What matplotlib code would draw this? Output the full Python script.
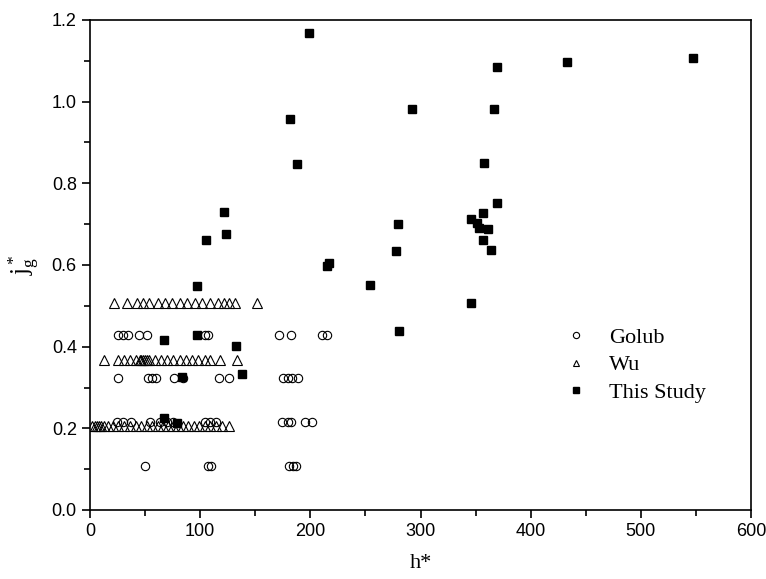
import numpy as np
import matplotlib
matplotlib.use('Agg')
import matplotlib.pyplot as plt
from matplotlib.ticker import MultipleLocator

plt.rcParams['mathtext.fontset'] = 'custom'
plt.rcParams['mathtext.rm'] = 'Liberation Serif'
plt.rcParams['mathtext.it'] = 'Liberation Serif:italic'

# Golub data
golub_h = [25, 30, 34.5, 44.5, 52, 104, 107, 172, 182, 211, 215,
           25, 53, 56, 60, 76, 84, 117, 126, 175, 180, 183, 189,
           24.5, 30, 37, 54.5, 63.5, 70, 75, 104, 109, 114, 174, 180, 182.5, 195, 201.5,
           50, 107, 110, 181, 184, 187]
golub_j = [0.429] * 11 + [0.323] * 12 + [0.216] * 15 + [0.107] * 6

# Wu data
wu_h_top = [22, 34, 43, 48, 54, 62, 68, 74, 82, 88, 95, 102, 109, 116, 122, 126, 132, 152]
wu_h_mid = [13, 25, 31, 36, 42, 45, 46, 48, 50, 52, 54, 59, 64, 70, 75, 82, 87, 93,
            98, 104, 109, 118, 133]
wu_h_low = [2, 4.5, 6.4, 8, 10, 13, 16, 21, 25, 31, 36, 42, 46, 52, 56, 62, 66, 71,
            75, 80, 84, 89, 94, 99, 104, 109, 114, 120, 126]
wu_h = wu_h_top + wu_h_mid + wu_h_low
wu_j = [0.506] * len(wu_h_top) + [0.367] * len(wu_h_mid) + [0.205] * len(wu_h_low)

# This study
study_h = [67, 79, 67, 97, 132.5, 83.5, 138, 97, 105, 121.5, 123,
           369, 357, 346, 351, 353, 361, 356.5, 364, 346,
           199, 292, 181.5, 188, 547, 433, 369.4, 366.7, 357.6,
           279.6, 278, 215, 217, 254, 280.5]
study_j = [0.225, 0.213, 0.417, 0.429, 0.402, 0.326, 0.334, 0.549, 0.66, 0.73, 0.676,
           0.752, 0.727, 0.713, 0.704, 0.691, 0.688, 0.661, 0.637, 0.507,
           1.169, 0.983, 0.958, 0.848, 1.108, 1.098, 1.086, 0.983, 0.85,
           0.701, 0.635, 0.598, 0.605, 0.551, 0.439]

fig = plt.figure(figsize=(7.66, 5.79), dpi=100)
ax = fig.add_axes([90 / 766, 1 - 510 / 579, 661 / 766, 490 / 579])

ax.plot(golub_h, golub_j, 'o', mfc='none', mec='black', ms=6, mew=0.8, label='Golub')
ax.plot(wu_h, wu_j, '^', mfc='none', mec='black', ms=6.5, mew=0.8, label='Wu')
ax.plot(study_h, study_j, 's', color='black', ms=5.5, label='This Study')

ax.set_xlim(0, 600)
ax.set_ylim(0, 1.2)
ax.xaxis.set_major_locator(MultipleLocator(100))
ax.xaxis.set_minor_locator(MultipleLocator(50))
ax.yaxis.set_major_locator(MultipleLocator(0.2))
ax.yaxis.set_minor_locator(MultipleLocator(0.1))
ax.yaxis.set_major_formatter(plt.FormatStrFormatter('%.1f'))
ax.tick_params(which='both', direction='out', top=False, right=False, width=1.2)
ax.tick_params(which='major', length=6, labelsize=13)
ax.tick_params(which='minor', length=4)
for lbl in ax.get_xticklabels() + ax.get_yticklabels():
    lbl.set_family('Liberation Sans')
for sp in ax.spines.values():
    sp.set_linewidth(1.2)

ax.set_xlabel('h*', family='Liberation Serif', fontsize=16, labelpad=10)
ax.set_ylabel(r'$\mathrm{j_g^*}$', fontsize=18, labelpad=8)

leg = ax.legend(loc='upper left', bbox_to_anchor=(0.688, 0.413), frameon=False,
                prop={'family': 'Liberation Serif', 'size': 16}, markerscale=0.75,
                handlelength=1.0, handletextpad=1.0, labelspacing=0.3)

fig.savefig('out.png', dpi=100)
